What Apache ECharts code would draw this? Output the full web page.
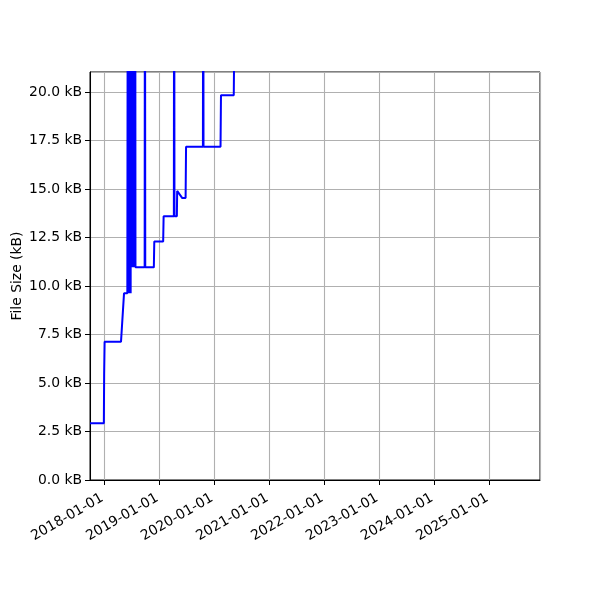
<!DOCTYPE html>
<html>
<head>
<meta charset="utf-8">
<script src="https://cdn.jsdelivr.net/npm/echarts@6/dist/echarts.min.js"></script>
<style>
html,body{margin:0;padding:0;background:#fff;}
#c{width:600px;height:600px;}
</style>
</head>
<body>
<div id="c"></div>
<script>
// Sample dates and file sizes (kB)
const dates = [
  '2017-09-30','2017-12-31','2018-01-02','2018-01-05','2018-04-24','2018-05-14','2018-06-05',
  '2018-06-07','2018-06-09','2018-06-11','2018-06-13','2018-06-15','2018-06-17','2018-06-19',
  '2018-06-21','2018-06-23','2018-06-25','2018-06-27','2018-06-29','2018-07-01','2018-07-03',
  '2018-07-05','2018-07-07','2018-07-09','2018-07-11','2018-07-13','2018-07-15','2018-07-17',
  '2018-07-19','2018-07-21','2018-07-23','2018-07-25','2018-07-27','2018-07-29',
  '2018-09-28','2018-09-30','2018-10-02',
  '2018-11-28','2018-12-01','2019-01-29','2019-02-01',
  '2019-04-10','2019-04-12','2019-04-14','2019-04-30','2019-05-02',
  '2019-05-15','2019-06-05','2019-06-27','2019-06-30',
  '2019-10-20','2019-10-22','2019-10-24',
  '2020-02-14','2020-02-17','2020-05-12','2020-05-15',
  '2020-09-01','2021-06-01','2022-04-01','2023-03-01','2024-02-01','2025-01-01','2025-10-01'
];
const sizes = [
  2.92, 2.92, 5.5, 7.13, 7.13, 9.62, 9.62,
  9.62, 38.0, 9.62, 36.5, 9.62, 39.0, 9.62,
  37.2, 9.62, 38.4, 9.62, 36.9, 10.96, 38.8,
  10.96, 37.5, 10.96, 39.3, 10.96, 36.6, 10.96,
  38.1, 10.96, 37.0, 10.96, 38.6, 10.96,
  10.96, 35.0, 10.96,
  10.96, 12.29, 12.29, 13.6,
  13.6, 34.0, 13.6, 13.6, 14.9,
  14.9, 14.53, 14.53, 17.18,
  17.18, 33.0, 17.18,
  17.18, 19.83, 19.83, 22.6,
  23.4, 24.8, 26.1, 27.5, 28.9, 30.2, 31.4
];
const yTicks = [0, 2.5, 5, 7.5, 10, 12.5, 15, 17.5, 20];

const seriesData = dates.map((d, i) => [d, sizes[i]]);
const FONT = 'DejaVu Sans';
const chart = echarts.init(document.getElementById('c'), null, {renderer: 'canvas'});
chart.setOption({
  animation: false,
  backgroundColor: '#fff',
  grid: {left: 90, right: 60, top: 72, bottom: 120, show: true, borderColor: '#000', borderWidth: 1,
         containLabel: false, outerBoundsMode: 'none'},
  xAxis: {
    type: 'time',
    min: '2017-09-30',
    max: '2025-12-06',
    minInterval: 365 * 86400000,
    maxInterval: 366 * 86400000,
    axisLine: {show: true, lineStyle: {color: '#000', width: 1}},
    axisTick: {show: true, length: 5, lineStyle: {color: '#000', width: 1}},
    minorTick: {show: false},
    axisLabel: {
      formatter: '{yyyy}-{MM}-{dd}',
      rotate: 30,
      color: '#000',
      fontFamily: FONT,
      fontSize: 13.9,
      margin: 8,
      verticalAlign: 'top',
      padding: [0, 6, 0, 0],
      hideOverlap: false,
      showMinLabel: false,
      showMaxLabel: false
    },
    splitLine: {show: true, lineStyle: {color: '#b0b0b0', width: 1.1}}
  },
  yAxis: {
    type: 'value',
    min: 0,
    max: 21.03,
    interval: 2.5,
    name: 'File Size (kB)',
    nameLocation: 'middle',
    nameGap: 66,
    nameMoveOverlap: false,
    nameTextStyle: {color: '#000', fontFamily: FONT, fontSize: 13.9},
    axisLine: {show: true, lineStyle: {color: '#000', width: 1}},
    axisTick: {show: true, length: 5, lineStyle: {color: '#000', width: 1}},
    axisLabel: {
      color: '#000', fontFamily: FONT, fontSize: 13.9, margin: 8,
      showMaxLabel: false,
      formatter: v => (yTicks.indexOf(v) >= 0 ? v.toFixed(1) + ' kB' : '')
    },
    splitLine: {show: true, lineStyle: {color: '#b0b0b0', width: 1.1}}
  },
  series: [{
    type: 'line',
    data: seriesData,
    showSymbol: false,
    symbol: 'none',
    clip: true,
    lineStyle: {color: '#0000ff', width: 2},
    itemStyle: {color: '#0000ff'}
  }]
});
</script>
</body>
</html>
